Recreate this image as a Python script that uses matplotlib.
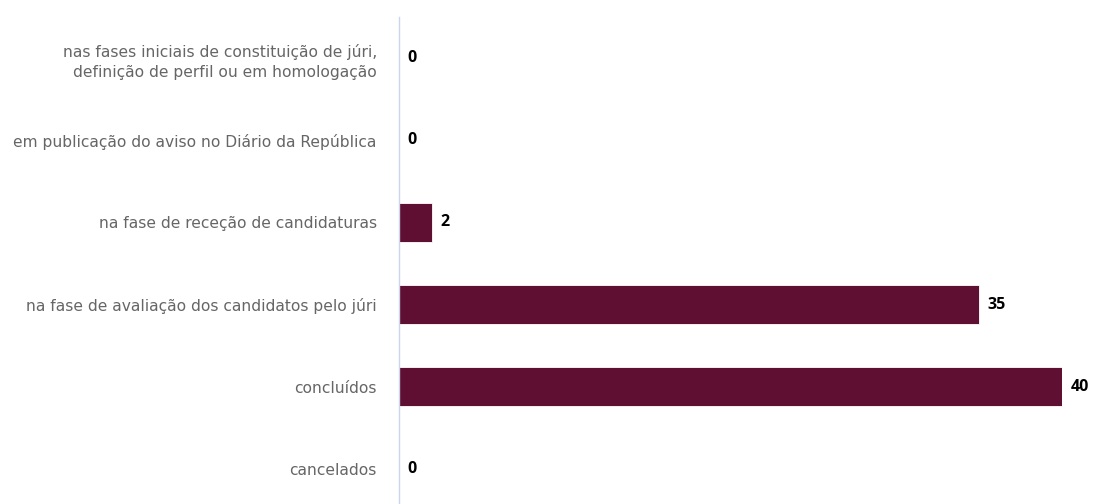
import matplotlib

matplotlib.use("Agg")
import matplotlib.pyplot as plt  # noqa: E402

categories = [
    "nas fases iniciais de constituição de júri,\ndefinição de perfil ou em homologação",
    "em publicação do aviso no Diário da República",
    "na fase de receção de candidaturas",
    "na fase de avaliação dos candidatos pelo júri",
    "concluídos",
    "cancelados",
]
values = [0, 0, 2, 35, 40, 0]

BAR_COLOR = "#5e0f32"
AXIS_COLOR = "#ccd6eb"
LABEL_COLOR = "#666666"

fig = plt.figure(figsize=(10.94, 5.04), dpi=100)
ax = fig.add_axes([399 / 1094, -6 / 504, 663 / 1094, 493 / 504])

ys = list(range(len(categories)))
ax.barh(ys, values, height=0.47, color=BAR_COLOR, edgecolor="white", linewidth=0.6)
ax.set_ylim(len(categories) - 0.5, -0.5)
ax.set_xlim(0, 40)

for y, v in zip(ys, values):
    ax.annotate(str(v), (v, y), xytext=(6, 0), textcoords="offset points",
                ha="left", va="center", fontsize=11.5, fontweight="bold",
                family="Open Sans", color="black", annotation_clip=False)

ax.set_yticks(ys)
ax.set_yticklabels(categories, ha="right")
for lbl in ax.get_yticklabels():
    lbl.set_fontfamily("DejaVu Sans")
    lbl.set_fontsize(11.2)
    lbl.set_color(LABEL_COLOR)
    lbl.set_linespacing(1.4)
ax.tick_params(axis="y", length=0, pad=16)
ax.set_xticks([])
for side in ["top", "right", "bottom"]:
    ax.spines[side].set_visible(False)
ax.spines["left"].set_color(AXIS_COLOR)
ax.spines["left"].set_linewidth(1)

fig.savefig("out.png", dpi=100)
